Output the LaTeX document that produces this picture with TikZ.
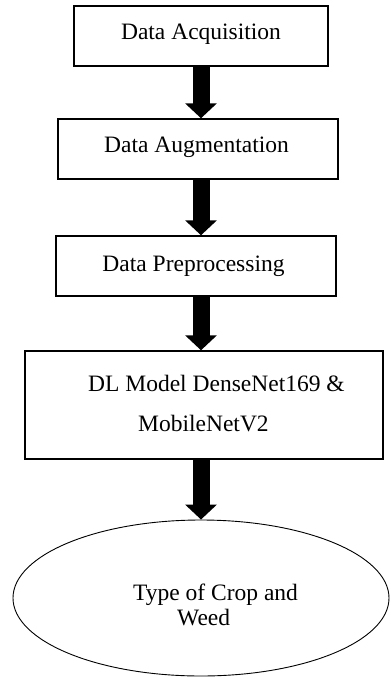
\documentclass[tikz,border=0pt]{standalone}
\usepackage{fontspec}
\setmainfont{Liberation Serif}
\usetikzlibrary{arrows.meta,shapes.geometric}
\begin{document}
\begin{tikzpicture}[x=1pt,y=-1pt,
  stepbox/.style={draw=black,line width=1.4pt,rectangle,inner sep=0pt},
  lbl/.style={anchor=base,inner sep=0pt,font=\fontsize{23.5}{28}\selectfont},
  lbll/.style={anchor=base west,inner sep=0pt,font=\fontsize{23.5}{28}\selectfont},
  bigarrow/.style={line width=17pt,-{Triangle[width=31pt,length=15pt]}}]
\useasboundingbox (0,0) rectangle (390,678);
\node[stepbox,minimum width=254pt,minimum height=60pt] (b1) at (201,36) {};
\node[stepbox,minimum width=280pt,minimum height=60pt] (b2) at (198,149) {};
\node[stepbox,minimum width=280pt,minimum height=60pt] (b3) at (196,266) {};
\node[stepbox,minimum width=358pt,minimum height=108pt] (b4) at (204,405) {};
\node[draw=black,line width=0.9pt,ellipse,minimum width=376pt,minimum height=156pt,inner sep=0pt] (e) at (201,598) {};
\coordinate (ax) at (201,0);
\node[lbl] (t1) at (201,39) {Data Acquisition};
\node[lbl] (t2) at (196.5,152) {Data Augmentation};
\node[lbl] (t3) at (193.5,271) {Data Preprocessing};
\node[lbll] (t4) at (88,391) {DL Model DenseNet169 \&};
\node[lbll] (t5) at (138,431) {MobileNetV2};
\node[lbll] (t6) at (133,600) {Type of Crop and};
\node[lbll] (t7) at (177,625) {Weed};
\draw[bigarrow] (b1.south -| ax) -- (b2.north -| ax);
\draw[bigarrow] (b2.south -| ax) -- (b3.north -| ax);
\draw[bigarrow] (b3.south -| ax) -- (b4.north -| ax);
\draw[bigarrow] (b4.south -| ax) -- (e.north -| ax);
\end{tikzpicture}
\end{document}
